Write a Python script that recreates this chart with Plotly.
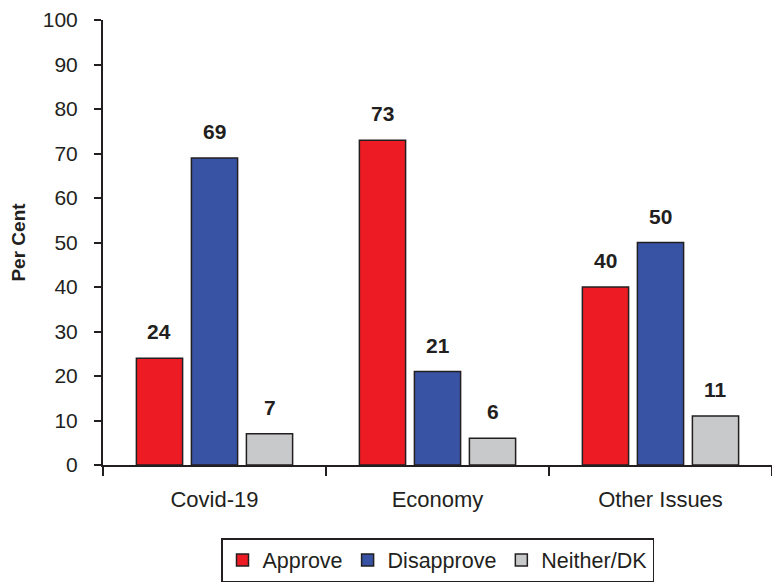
import plotly.graph_objects as go

categories = ["Covid-19", "Economy", "Other Issues"]
approve = [24, 73, 40]
disapprove = [69, 21, 50]
neither = [7, 6, 11]
series_names = ["Approve", "Disapprove", "Neither/DK"]
colors = ["#ED1C24", "#3953A4", "#C8C9CA"]
y_ticks = list(range(0, 101, 10))

BARGAP = 0.26
n_series = 3
slot = (1 - BARGAP) / n_series

fig = go.Figure()
annotations = []
for i, (name, vals, col) in enumerate(zip(series_names, [approve, disapprove, neither], colors)):
    fig.add_trace(go.Bar(
        name=name, x=list(range(len(categories))), y=vals,
        marker=dict(color=col, line=dict(color="#231F20", width=1.5)),
    ))
    for j, v in enumerate(vals):
        annotations.append(dict(
            x=j + (i - (n_series - 1) / 2) * slot, y=v, xref="x", yref="y",
            text=f"<b>{v}</b>", showarrow=False, yanchor="bottom", yshift=13,
            font=dict(family="Liberation Sans, Arial", size=21, color="#231F20"),
        ))

fig.update_layout(
    width=772, height=582,
    margin=dict(l=103, r=0, t=20, b=116),
    paper_bgcolor="white", plot_bgcolor="white",
    barmode="group", bargap=BARGAP, bargroupgap=0.16,
    font=dict(family="Liberation Sans, Arial", size=22, color="#231F20"),
    showlegend=True,
    annotations=annotations,
    legend=dict(orientation="h", x=0.5, xanchor="center", y=-0.165, yanchor="top",
                bordercolor="#231F20", borderwidth=1.5,
                font=dict(size=21.5), tracegroupgap=0),
    xaxis=dict(showline=True, linecolor="#231F20", linewidth=2,
               tickmode="array", tickvals=[-0.5, 0.5, 1.5, 2.5], ticktext=["", "", "", ""],
               ticks="outside", ticklen=9, tickwidth=2, range=[-0.5, 2.5],
               tickcolor="#231F20", showgrid=False, zeroline=False),
    xaxis2=dict(overlaying="x", matches="x", tickmode="array",
                tickvals=list(range(len(categories))), ticktext=categories,
                side="bottom", showline=False, ticks="", anchor="y",
                ticklabelstandoff=19, showgrid=False, zeroline=False,
                tickfont=dict(size=22)),
    yaxis=dict(range=[0, 100], tickvals=y_ticks, showline=True, linecolor="#231F20",
               linewidth=2, ticks="outside", ticklen=7, tickwidth=2, tickcolor="#231F20",
               ticklabelstandoff=12, tickfont=dict(size=21),
               showgrid=False, zeroline=False,
               title=dict(text="<b>Per Cent</b>", font=dict(size=19), standoff=12)),
)
# invisible trace on xaxis2 so its category labels render
fig.add_trace(go.Scatter(x=[0], y=[0], xaxis="x2", yaxis="y", mode="markers",
                         marker=dict(opacity=0), showlegend=False, hoverinfo="skip"))
fig.write_html("out.html")
